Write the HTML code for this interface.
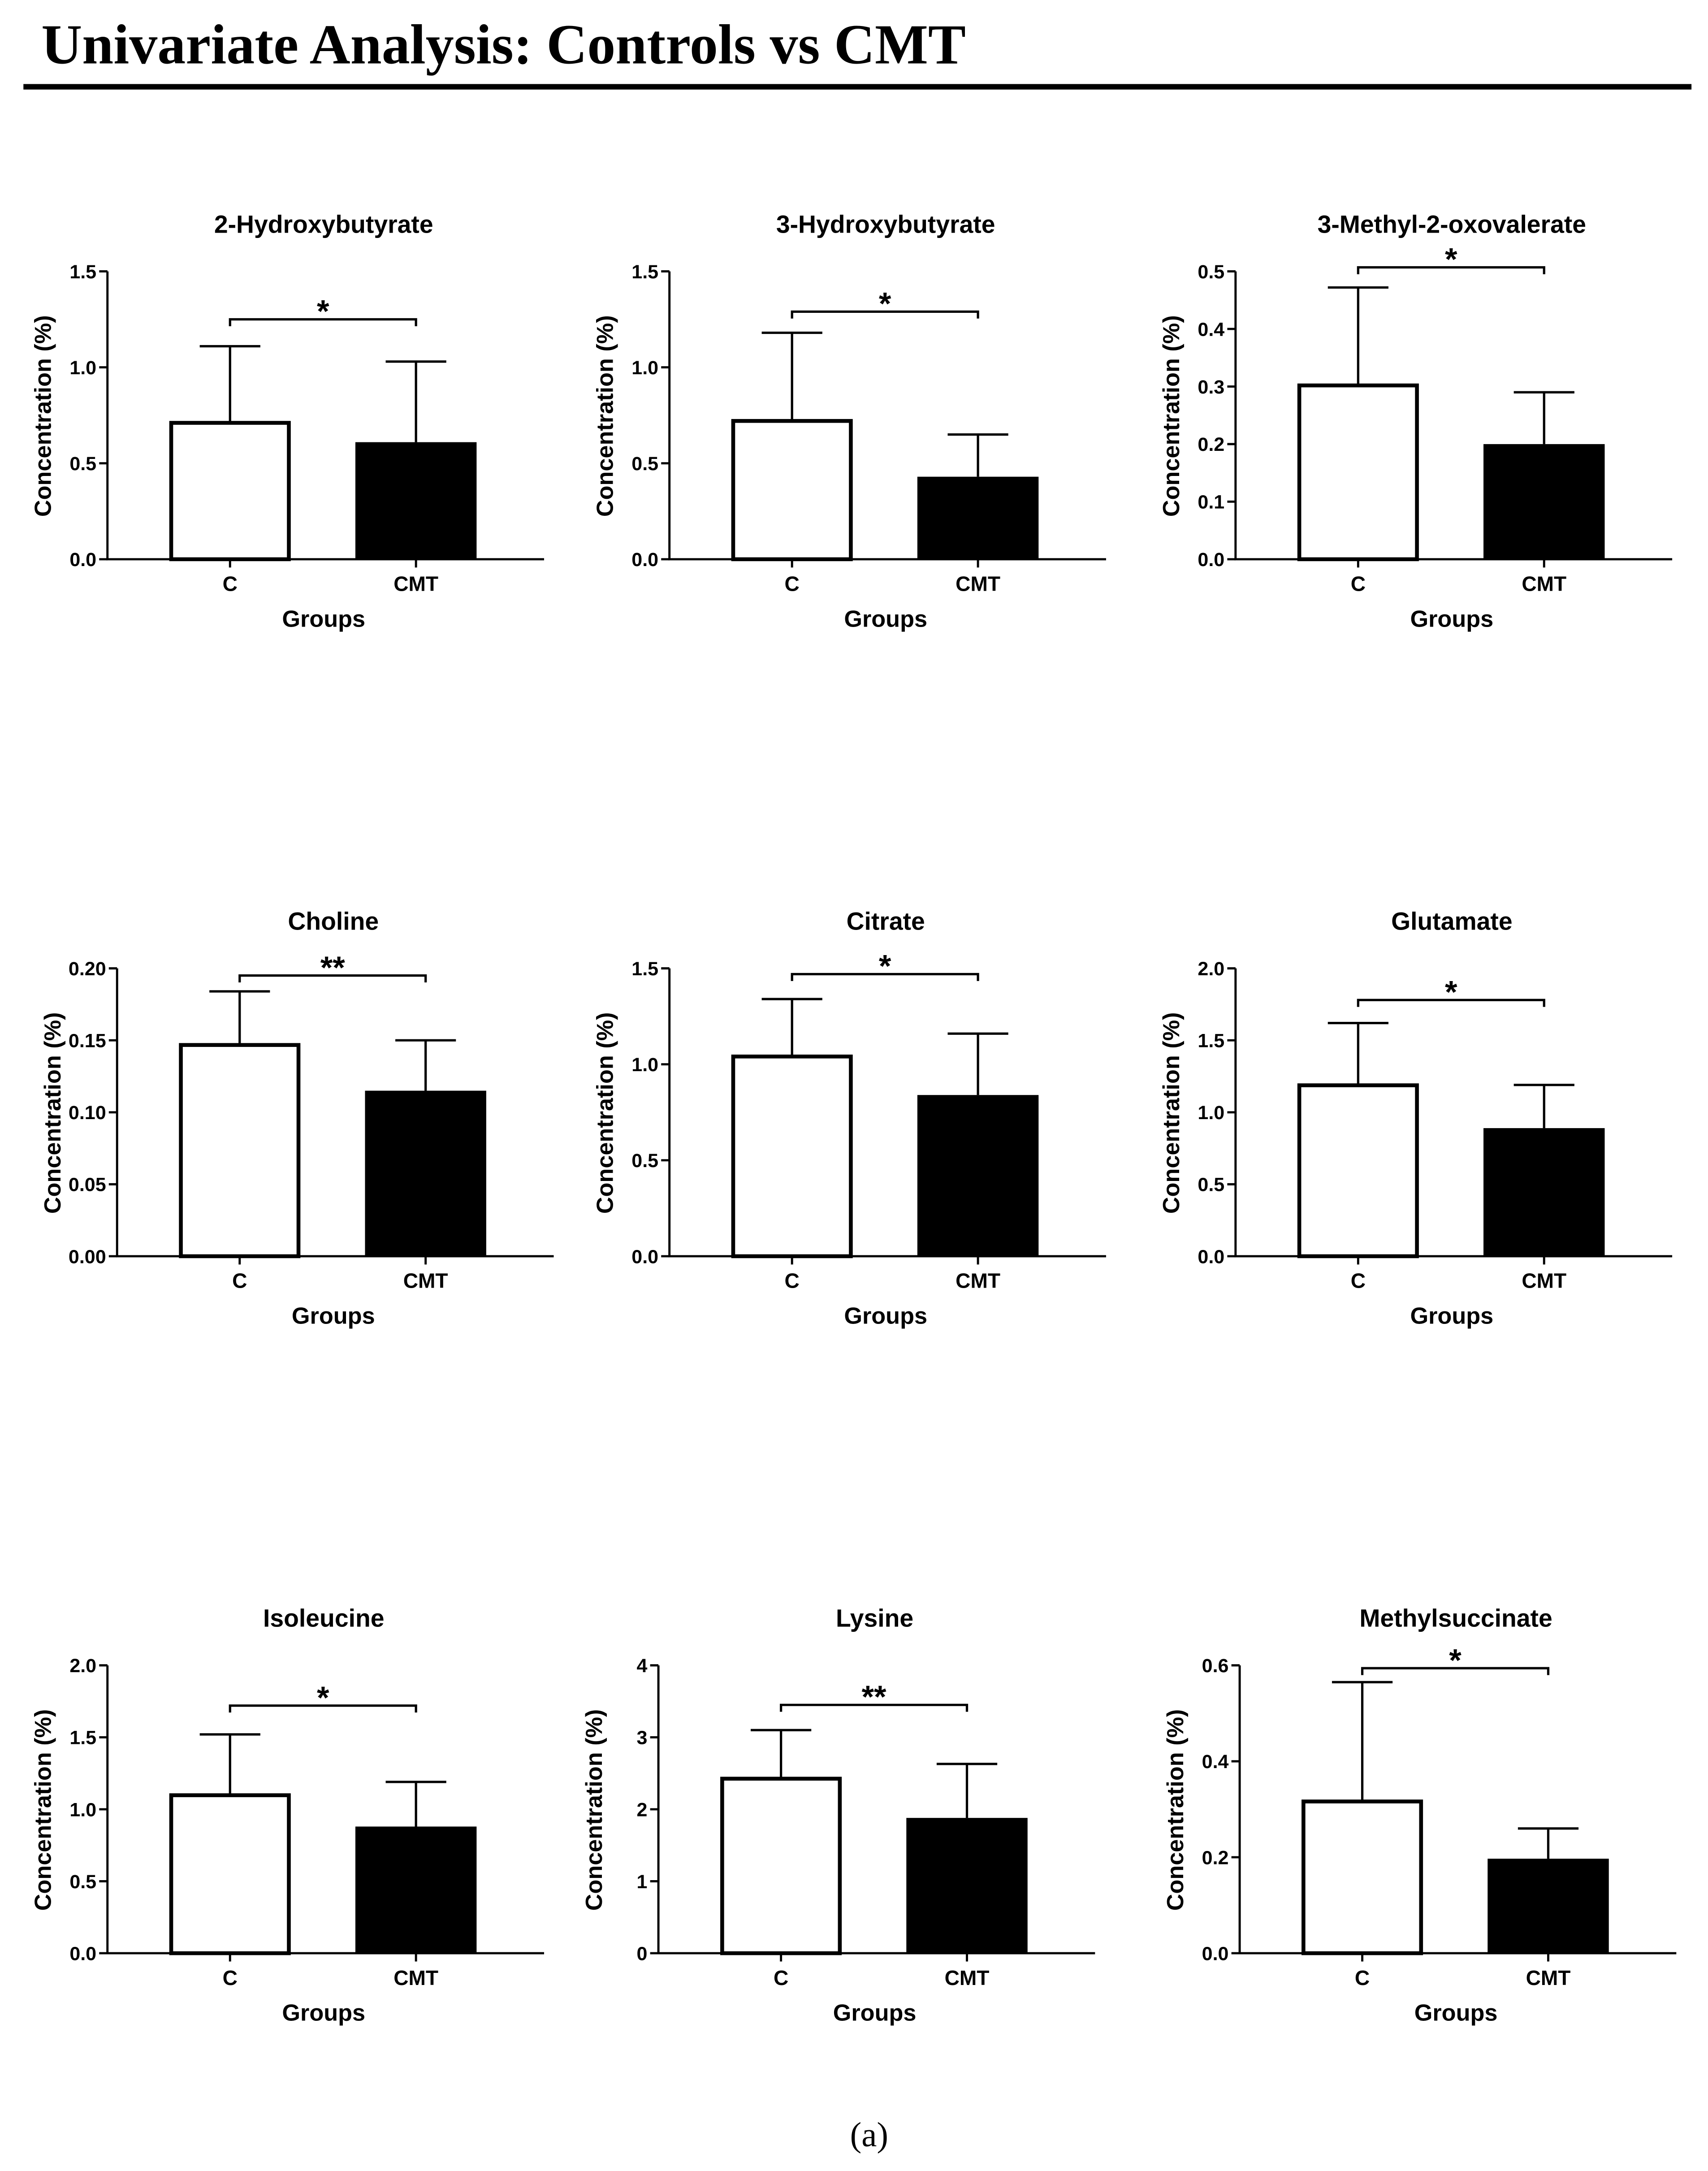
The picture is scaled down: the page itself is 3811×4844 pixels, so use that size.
<!DOCTYPE html>
<html><head><meta charset="utf-8"><style>
html,body{margin:0;padding:0;background:#fff;}
svg{display:block;}
text{font-family:"Liberation Sans",Arial,sans-serif;font-weight:bold;fill:#000;}
</style></head><body>
<svg id="fig" width="3811" height="4844" viewBox="0 0 1240 1576.1" xmlns="http://www.w3.org/2000/svg">
<text x="30" y="46" style="font-family:'Liberation Serif',serif;font-size:41px;">Univariate Analysis: Controls vs CMT</text>
<rect x="17" y="61" width="1211" height="4" fill="#000"/>
<text x="631" y="1558" text-anchor="middle" style="font-family:'Liberation Serif',serif;font-size:25px;font-weight:normal;">(a)</text>
</svg>
<script>
const titles = ["2-Hydroxybutyrate","3-Hydroxybutyrate","3-Methyl-2-oxovalerate","Choline","Citrate","Glutamate","Isoleucine","Lysine","Methylsuccinate"];
const categories = ["C","CMT"];
const cMeans = [0.72,0.73,0.305,0.148,1.05,1.2,1.11,2.45,0.32];
const cErrTops = [1.11,1.18,0.472,0.184,1.34,1.62,1.52,3.1,0.565];
const cmtMeans = [0.61,0.43,0.2,0.115,0.84,0.89,0.88,1.88,0.197];
const cmtErrTops = [1.03,0.65,0.29,0.150,1.16,1.19,1.19,2.63,0.26];
const yMaxes = [1.5,1.5,0.5,0.2,1.5,2.0,2.0,4,0.6];
const tickValues = [[0,0.5,1,1.5],[0,0.5,1,1.5],[0,0.1,0.2,0.3,0.4,0.5],[0,0.05,0.1,0.15,0.2],[0,0.5,1,1.5],[0,0.5,1,1.5,2],[0,0.5,1,1.5,2],[0,1,2,3,4],[0,0.2,0.4,0.6]];
const tickLabels = [["0.0","0.5","1.0","1.5"],["0.0","0.5","1.0","1.5"],["0.0","0.1","0.2","0.3","0.4","0.5"],["0.00","0.05","0.10","0.15","0.20"],["0.0","0.5","1.0","1.5"],["0.0","0.5","1.0","1.5","2.0"],["0.0","0.5","1.0","1.5","2.0"],["0","1","2","3","4"],["0.0","0.2","0.4","0.6"]];
const sigValues = [1.25,1.29,0.507,0.195,1.47,1.78,1.72,3.45,0.594];
const sigLabels = ["*","*","*","**","*","*","*","**","*"];

const svg = document.getElementById('fig');
const NS = 'http://www.w3.org/2000/svg';
const axisXs = [78,486,897,85,486,897,78,478,900];
const rowBottoms = [406,912,1418];
const H = 209;
function mk(tag, attrs, parent){const e=document.createElementNS(NS,tag);for(const k in attrs)e.setAttribute(k,attrs[k]);(parent||svg).appendChild(e);return e;}
for(let i=0;i<9;i++){
  const g = mk('g',{});
  
  
  const ax = axisXs[i], by = rowBottoms[Math.floor(i/3)], ty = by - H;
  const y = v => by - v / yMaxes[i] * H;
  const bx = [ax+45, ax+180];
  const cx = [bx[0]+44, bx[1]+44];
  const t = mk('text',{x:ax+157,y:ty-28,'text-anchor':'middle','font-size':'18'},g); t.textContent=titles[i];
  
  
  const means=[cMeans[i],cmtMeans[i]], errs=[cErrTops[i],cmtErrTops[i]];
  for(let k=0;k<2;k++){
    const e = mk('path',{d:`M${cx[k]},${y(means[k])}V${y(errs[k])}M${cx[k]-22},${y(errs[k])}H${cx[k]+22}`,stroke:'#000','stroke-width':'1.7',fill:'none'},g);
    
    
    const r = mk('rect',{x:bx[k]+(k===0?1.3:0),y:y(means[k])+(k===0?1.3:0),width:88-(k===0?2.6:0),height:by-y(means[k])-(k===0?1.3:0),fill:k===0?'#fff':'#000',stroke:'#000','stroke-width':k===0?'2.8':'0'},g);
    
    
    const tk = mk('line',{x1:cx[k],x2:cx[k],y1:by,y2:by+6,stroke:'#000','stroke-width':'1.6'},g);
    
    
    const cl = mk('text',{x:cx[k],y:by+23,'text-anchor':'middle','font-size':'15'},g); cl.textContent=categories[k];
    
    
  }
  const axl = mk('path',{d:`M${ax},${ty}V${by}H${ax+317}`,stroke:'#000','stroke-width':'1.6',fill:'none'},g);
  
  
  tickValues[i].forEach((v,j)=>{
    const l = mk('line',{x1:ax-6,x2:ax,y1:y(v),y2:y(v),stroke:'#000','stroke-width':'1.6'},g);
    
    
    const tl = mk('text',{x:ax-8,y:y(v)+5,'text-anchor':'end','font-size':'14'},g); tl.textContent=tickLabels[i][j];
    
    
  });
  const yt = mk('text',{x:0,y:0,'text-anchor':'middle','font-size':'17',transform:`translate(${ax-41},${by-104}) rotate(-90)`},g); yt.textContent='Concentration (%)';
  
  
  const xt = mk('text',{x:ax+157,y:by+49,'text-anchor':'middle','font-size':'17'},g); xt.textContent='Groups';
  
  
  const sy = y(sigValues[i]);
  const br = mk('path',{d:`M${cx[0]},${sy+5}V${sy}H${cx[1]}V${sy+5}`,stroke:'#000','stroke-width':'1.7',fill:'none'},g);
  
  
  const st = mk('text',{x:(cx[0]+cx[1])/2,y:sy+2,'text-anchor':'middle','font-size':'23'},g); st.textContent=sigLabels[i];
  
  
}
</script>
</body></html>
